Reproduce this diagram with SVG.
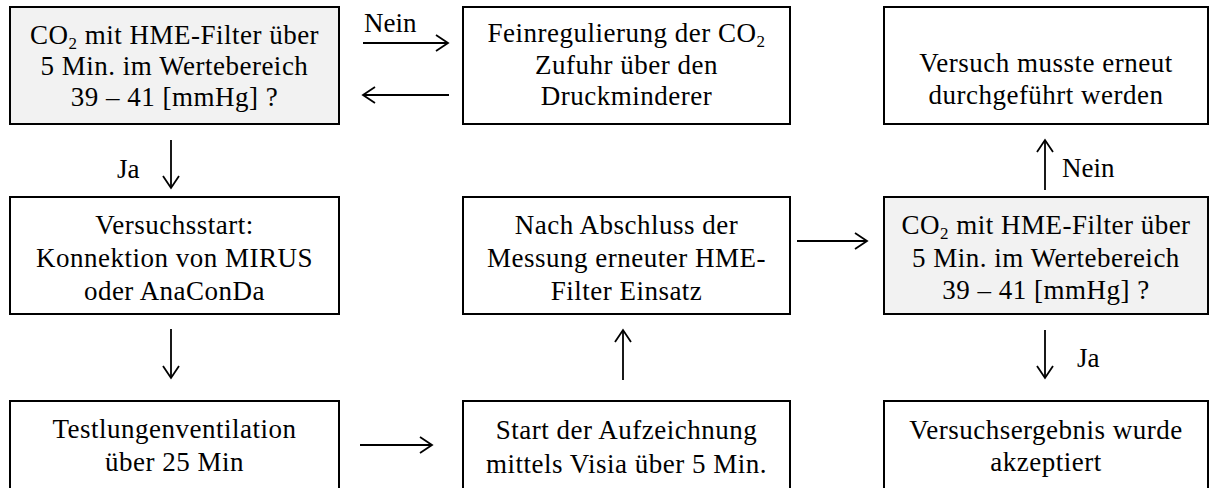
<svg xmlns="http://www.w3.org/2000/svg" width="1210" height="488" viewBox="0 0 1210 488">
<style>
.box{fill:#ffffff;stroke:#000;stroke-width:2}
.q{fill:#f2f2f2}
.t{font-family:"Liberation Serif","Times New Roman",serif;font-size:27px;letter-spacing:0.5px;fill:#000;text-anchor:middle}
.l{font-family:"Liberation Serif","Times New Roman",serif;font-size:27px;fill:#000}
.c{stroke:#000;stroke-width:1.8;fill:none;marker-end:url(#ah)}
.sub{font-size:17px}
</style>
<defs>
<marker id="ah" markerUnits="userSpaceOnUse" viewBox="-1 -1 15 19" markerWidth="15" markerHeight="19" refX="12" refY="8" orient="auto">
<path d="M0,0 L12,8 L0,16" fill="none" stroke="#000" stroke-width="1.8"/>
</marker>
</defs>
<g id="n1">
<rect class="box q" x="10" y="7" width="329" height="117"/>
<text class="t" x="174.5" y="44">CO<tspan class="sub" dy="5">2</tspan><tspan dy="-5"> mit HME-Filter über</tspan></text>
<text class="t" x="174.5" y="75">5 Min. im Wertebereich</text>
<text class="t" x="174.5" y="106">39 – 41 [mmHg] ?</text>
</g>
<g id="n2">
<rect class="box" x="463" y="7" width="327" height="117"/>
<text class="t" x="626.5" y="42">Feinregulierung der CO<tspan class="sub" dy="5">2</tspan></text>
<text class="t" x="626.5" y="74">Zufuhr über den</text>
<text class="t" x="626.5" y="105">Druckminderer</text>
</g>
<g id="n3">
<rect class="box" x="884" y="7" width="324" height="117"/>
<text class="t" x="1046" y="72">Versuch musste erneut</text>
<text class="t" x="1046" y="104">durchgeführt werden</text>
</g>
<g id="n4">
<rect class="box" x="10" y="197" width="329" height="117"/>
<text class="t" x="174.5" y="234">Versuchsstart:</text>
<text class="t" x="174.5" y="267">Konnektion von MIRUS</text>
<text class="t" x="174.5" y="300">oder AnaConDa</text>
</g>
<g id="n5">
<rect class="box" x="463" y="197" width="327" height="117"/>
<text class="t" x="626.5" y="234">Nach Abschluss der</text>
<text class="t" x="626.5" y="267">Messung erneuter HME-</text>
<text class="t" x="626.5" y="300">Filter Einsatz</text>
</g>
<g id="n6">
<rect class="box q" x="884" y="197" width="324" height="117"/>
<text class="t" x="1046" y="234">CO<tspan class="sub" dy="5">2</tspan><tspan dy="-5"> mit HME-Filter über</tspan></text>
<text class="t" x="1046" y="267">5 Min. im Wertebereich</text>
<text class="t" x="1046" y="299">39 – 41 [mmHg] ?</text>
</g>
<g id="n7">
<rect class="box" x="10" y="401" width="329" height="100"/>
<text class="t" x="174.5" y="438">Testlungenventilation</text>
<text class="t" x="174.5" y="471">über 25 Min</text>
</g>
<g id="n8">
<rect class="box" x="463" y="401" width="327" height="100"/>
<text class="t" x="626.5" y="439">Start der Aufzeichnung</text>
<text class="t" x="626.5" y="473">mittels Visia über 5 Min.</text>
</g>
<g id="n9">
<rect class="box" x="884" y="401" width="324" height="100"/>
<text class="t" x="1046" y="439">Versuchsergebnis wurde</text>
<text class="t" x="1046" y="471">akzeptiert</text>
</g>
<g id="connectors">
<path class="c" d="M363,43 L448,43"/>
<path class="c" d="M449,95 L363,95"/>
<path class="c" d="M171,140 L171,188"/>
<path class="c" d="M171,329 L171,378"/>
<path class="c" d="M360,445 L432,445"/>
<path class="c" d="M623,380 L623,330"/>
<path class="c" d="M797,241 L867,241"/>
<path class="c" d="M1045,190 L1045,140"/>
<path class="c" d="M1045,330 L1045,378"/>
<text class="l" x="364" y="32">Nein</text>
<text class="l" x="117" y="178">Ja</text>
<text class="l" x="1062" y="177">Nein</text>
<text class="l" x="1077" y="367">Ja</text>
</g>
</svg>
